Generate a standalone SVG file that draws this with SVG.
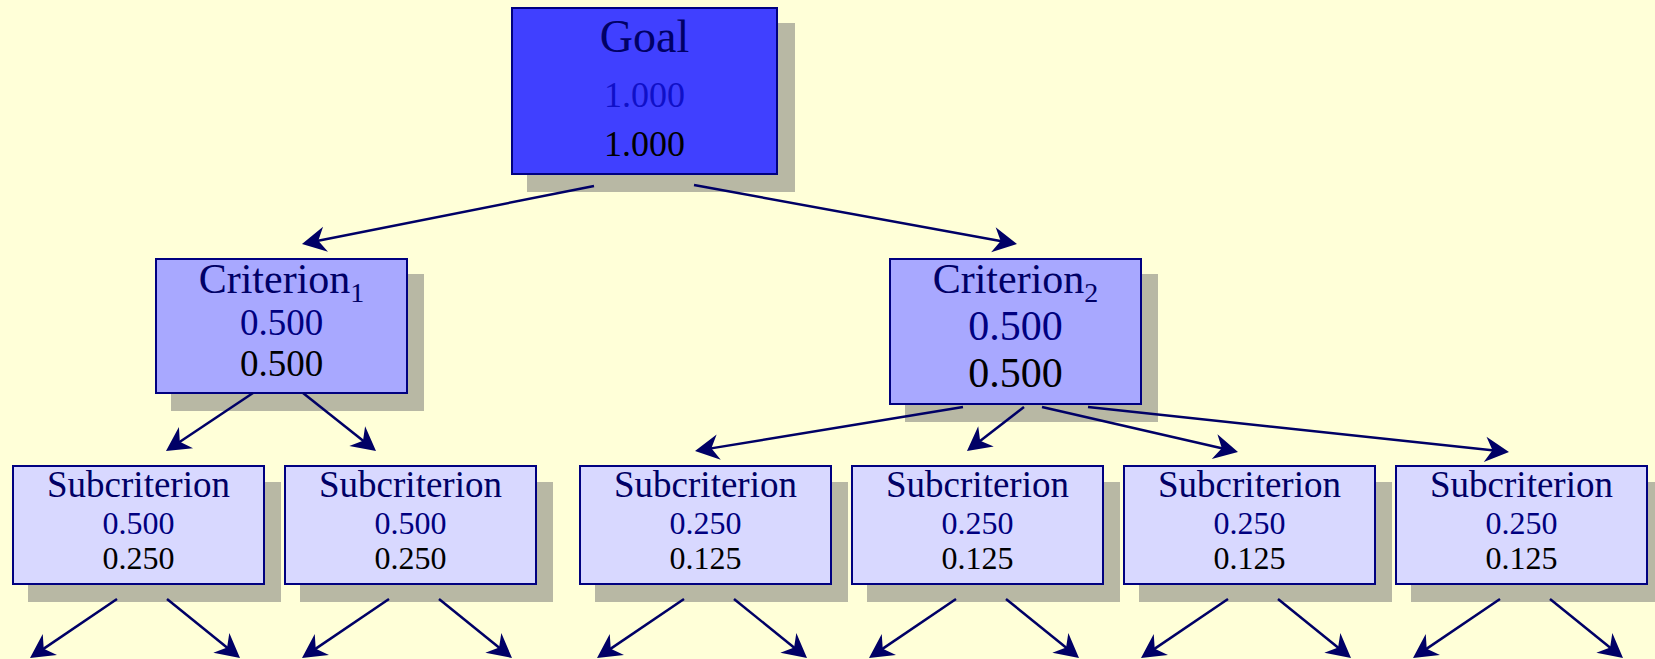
<svg xmlns="http://www.w3.org/2000/svg" width="1655" height="659" viewBox="0 0 1655 659">
<style>
.shadow{fill:#B8B8A4;}
.box{stroke:#000080;stroke-width:2;}
.goal{fill:#4040FF;}
.crit{fill:#A8A8FF;}
.sub{fill:#D8D8FF;}
text{font-family:"Liberation Serif","Times New Roman",serif;text-anchor:middle;}
.t{fill:#000066;}
.b{fill:#000080;}
.gb{fill:#1010C8;}
.k{fill:#000000;}
.conn line{stroke:#000066;stroke-width:2.5;marker-end:url(#arr);}
</style>
<defs>
<marker id="arr" markerUnits="userSpaceOnUse" markerWidth="40" markerHeight="40" viewBox="-20 -20 40 40" refX="0" refY="0" orient="auto">
<path d="M10,0 L-14,-12.7 L-6.6,0 L-14,12.7 Z" fill="#000066"/>
</marker>
</defs>
<rect x="0" y="0" width="1655" height="659" fill="#FFFFD8"/>

<g id="goal">
<rect class="shadow" x="527" y="23" width="268" height="169"/>
<rect class="box goal" x="512" y="8" width="265" height="166"/>
<text class="t" x="644.5" y="52" font-size="46">Goal</text>
<text class="gb" x="644.5" y="107" font-size="36">1.000</text>
<text class="k" x="644.5" y="156" font-size="36">1.000</text>
</g>

<g id="criterion1">
<rect class="shadow" x="171" y="274" width="253" height="137"/>
<rect class="box crit" x="156" y="259" width="251" height="134"/>
<text class="t" x="281.5" y="293" font-size="42">Criterion<tspan font-size="28" dy="9">1</tspan></text>
<text class="b" x="281.5" y="335" font-size="37">0.500</text>
<text class="k" x="281.5" y="376" font-size="37">0.500</text>
</g>

<g id="criterion2">
<rect class="shadow" x="905" y="274" width="253" height="148"/>
<rect class="box crit" x="890" y="259" width="251" height="145"/>
<text class="t" x="1015.5" y="293" font-size="42">Criterion<tspan font-size="28" dy="9">2</tspan></text>
<text class="b" x="1015.5" y="340" font-size="42">0.500</text>
<text class="k" x="1015.5" y="387" font-size="42">0.500</text>
</g>

<g id="sub1">
<rect class="shadow" x="28" y="482" width="253" height="120"/>
<rect class="box sub" x="13" y="466" width="251" height="118"/>
<text class="t" x="138.5" y="497" font-size="37">Subcriterion</text>
<text class="b" x="138.5" y="534" font-size="32">0.500</text>
<text class="k" x="138.5" y="569" font-size="32">0.250</text>
</g>

<g id="sub2">
<rect class="shadow" x="300" y="482" width="253" height="120"/>
<rect class="box sub" x="285" y="466" width="251" height="118"/>
<text class="t" x="410.5" y="497" font-size="37">Subcriterion</text>
<text class="b" x="410.5" y="534" font-size="32">0.500</text>
<text class="k" x="410.5" y="569" font-size="32">0.250</text>
</g>

<g id="sub3">
<rect class="shadow" x="595" y="482" width="253" height="120"/>
<rect class="box sub" x="580" y="466" width="251" height="118"/>
<text class="t" x="705.5" y="497" font-size="37">Subcriterion</text>
<text class="b" x="705.5" y="534" font-size="32">0.250</text>
<text class="k" x="705.5" y="569" font-size="32">0.125</text>
</g>

<g id="sub4">
<rect class="shadow" x="867" y="482" width="253" height="120"/>
<rect class="box sub" x="852" y="466" width="251" height="118"/>
<text class="t" x="977.5" y="497" font-size="37">Subcriterion</text>
<text class="b" x="977.5" y="534" font-size="32">0.250</text>
<text class="k" x="977.5" y="569" font-size="32">0.125</text>
</g>

<g id="sub5">
<rect class="shadow" x="1139" y="482" width="253" height="120"/>
<rect class="box sub" x="1124" y="466" width="251" height="118"/>
<text class="t" x="1249.5" y="497" font-size="37">Subcriterion</text>
<text class="b" x="1249.5" y="534" font-size="32">0.250</text>
<text class="k" x="1249.5" y="569" font-size="32">0.125</text>
</g>

<g id="sub6">
<rect class="shadow" x="1411" y="482" width="253" height="120"/>
<rect class="box sub" x="1396" y="466" width="251" height="118"/>
<text class="t" x="1521.5" y="497" font-size="37">Subcriterion</text>
<text class="b" x="1521.5" y="534" font-size="32">0.250</text>
<text class="k" x="1521.5" y="569" font-size="32">0.125</text>
</g>

<g id="connectors" class="conn">
<line x1="594" y1="186" x2="311.8" y2="242.05"/>
<line x1="694" y1="185" x2="1007.16" y2="242.2"/>
<line x1="253" y1="393" x2="174.32" y2="445.45"/>
<line x1="303" y1="393" x2="368.17" y2="444.78"/>
<line x1="963" y1="407" x2="704.87" y2="449.38"/>
<line x1="1024" y1="407" x2="974.9" y2="444.9"/>
<line x1="1042" y1="407" x2="1228.25" y2="449.76"/>
<line x1="1088" y1="407" x2="1499.06" y2="450.94"/>
<line x1="117" y1="599" x2="38.28" y2="652.39"/>
<line x1="167" y1="599" x2="232.23" y2="651.72"/>
<line x1="389" y1="599" x2="310.28" y2="652.39"/>
<line x1="439" y1="599" x2="504.23" y2="651.72"/>
<line x1="684" y1="599" x2="605.28" y2="652.39"/>
<line x1="734" y1="599" x2="799.23" y2="651.72"/>
<line x1="956" y1="599" x2="877.28" y2="652.39"/>
<line x1="1006" y1="599" x2="1071.23" y2="651.72"/>
<line x1="1228" y1="599" x2="1149.28" y2="652.39"/>
<line x1="1278" y1="599" x2="1343.23" y2="651.72"/>
<line x1="1500" y1="599" x2="1421.28" y2="652.39"/>
<line x1="1550" y1="599" x2="1615.23" y2="651.72"/>
</g>
</svg>
